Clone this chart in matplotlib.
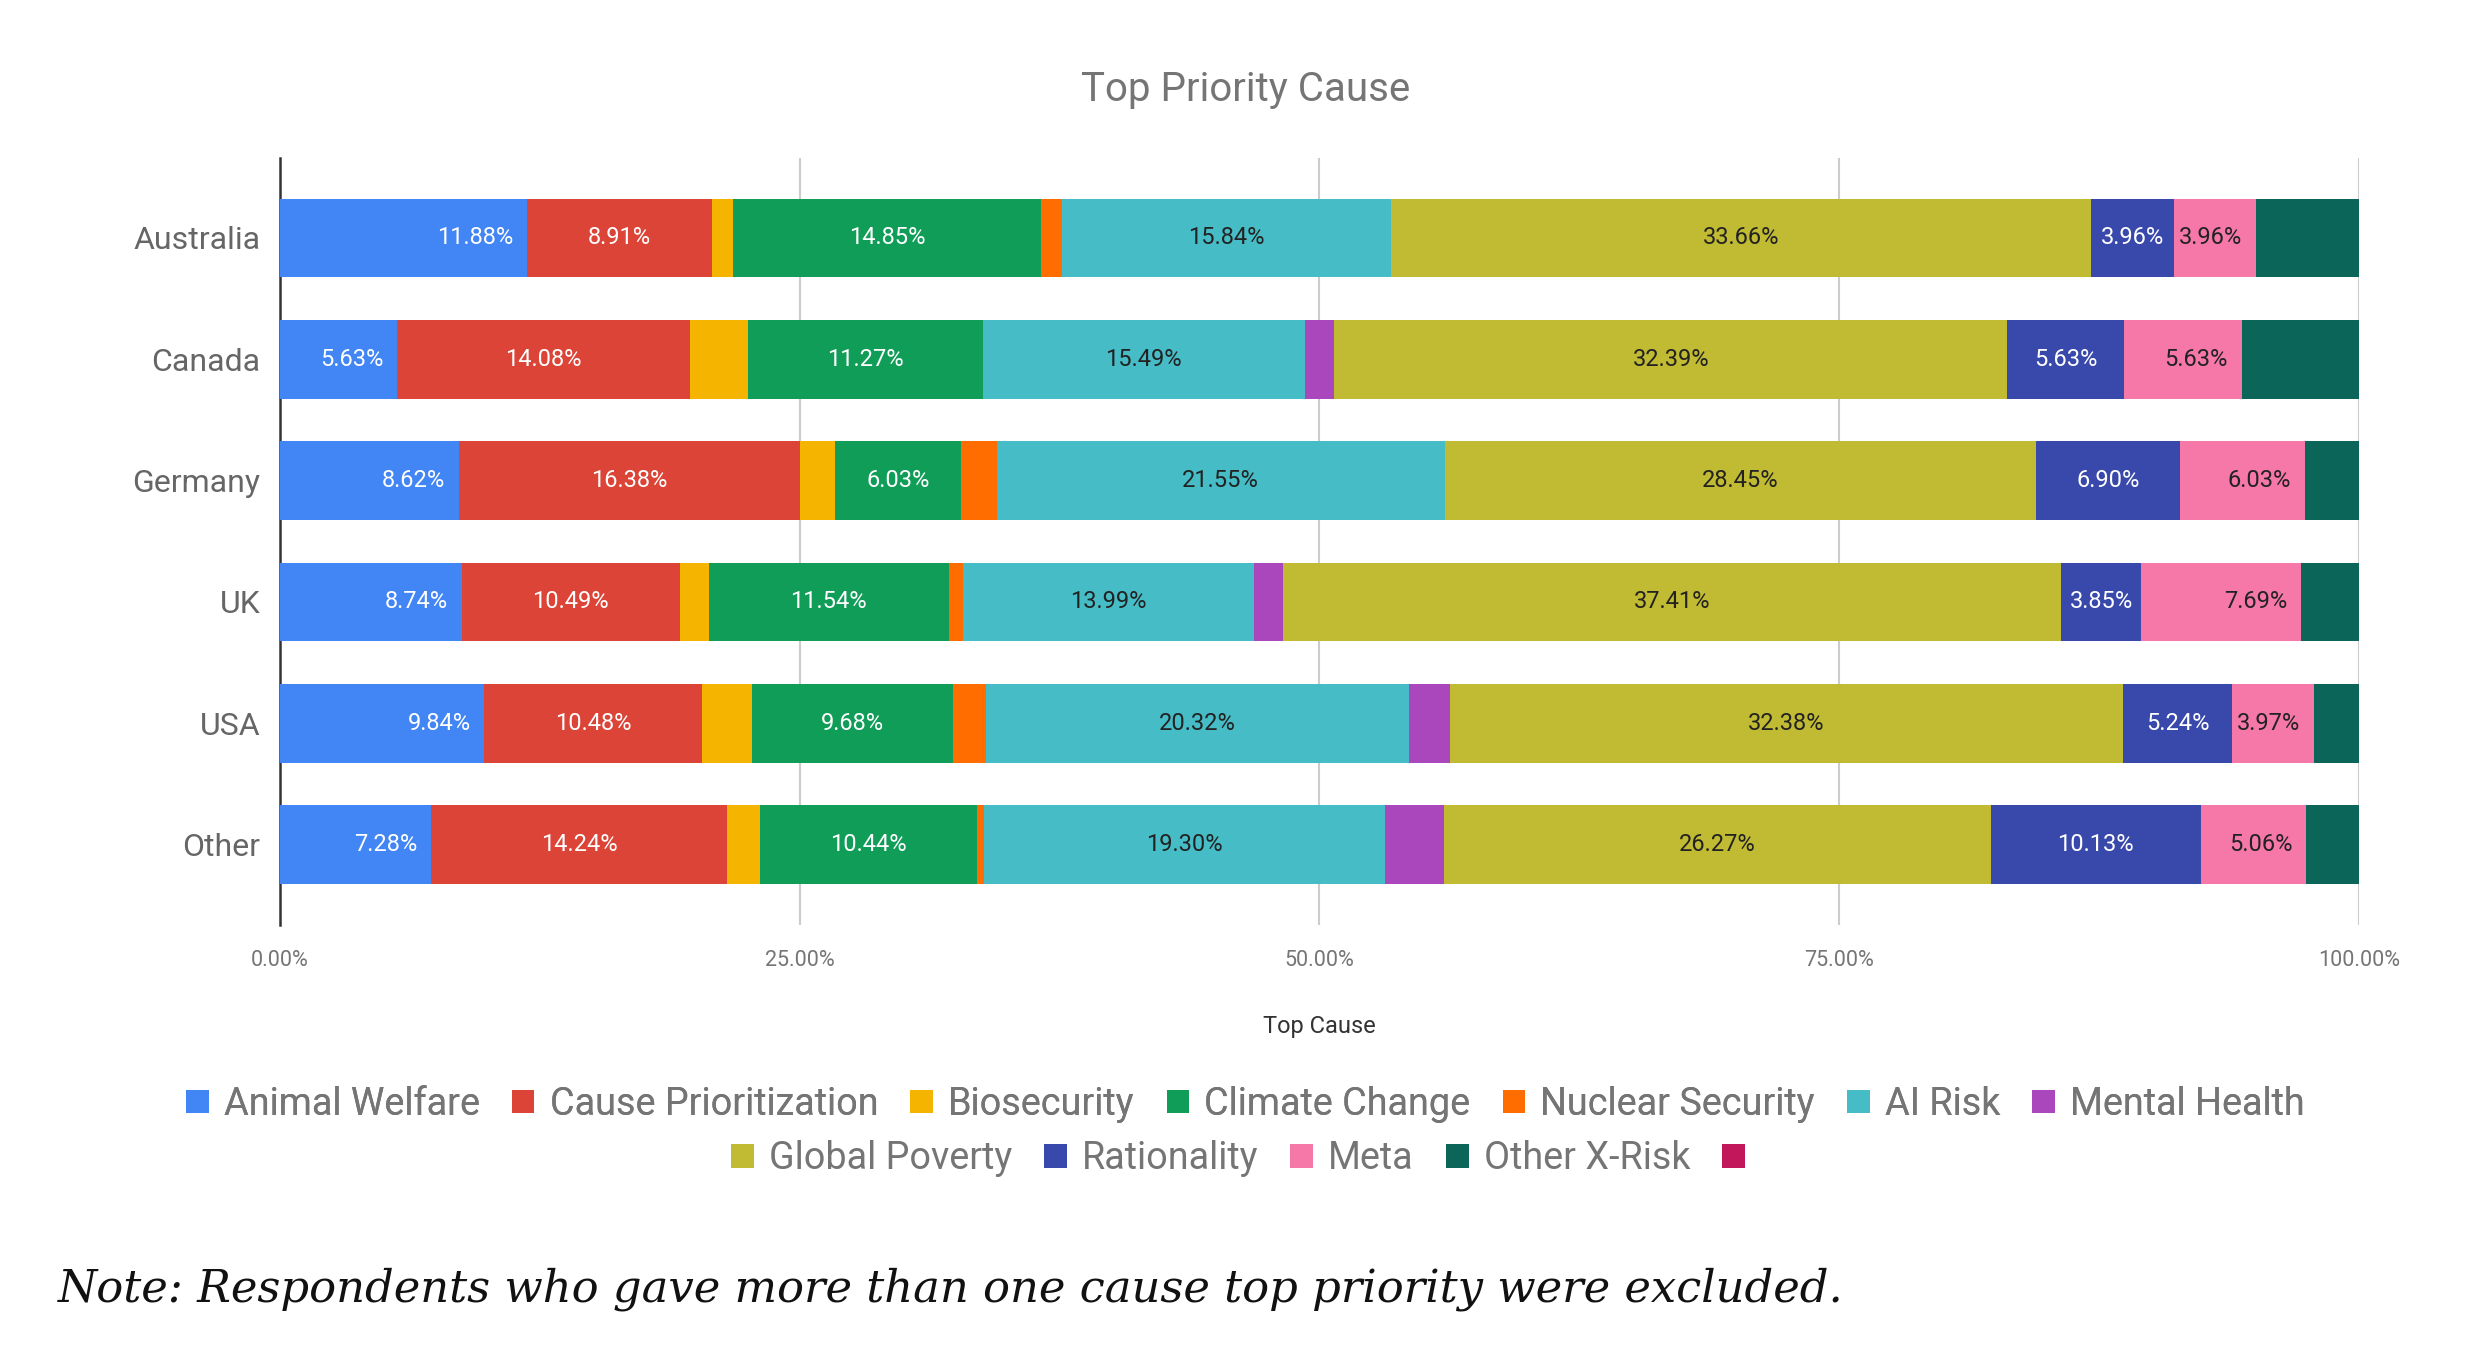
import numpy as np
import matplotlib
matplotlib.use('Agg')
import matplotlib.pyplot as plt
from matplotlib.patches import Patch

plt.rcParams['font.family'] = ['Roboto', 'DejaVu Sans']

countries = ['Australia', 'Canada', 'Germany', 'UK', 'USA', 'Other']
causes = ['Animal Welfare', 'Cause Prioritization', 'Biosecurity', 'Climate Change',
          'Nuclear Security', 'AI Risk', 'Mental Health', 'Global Poverty',
          'Rationality', 'Meta', 'Other X-Risk', '']
colors = ['#4285F4', '#DB4437', '#F4B400', '#0F9D58', '#FF6D01', '#46BDC6',
          '#AB47BC', '#C1BA33', '#3949AB', '#F678A8', '#0B6659', '#C2185B']

# percent of respondents, one list per cause (rows = countries above)
animal_welfare = [11.88, 5.63, 8.62, 8.74, 9.84, 7.28]
cause_prio = [8.91, 14.08, 16.38, 10.49, 10.48, 14.24]
biosecurity = [0.99, 2.82, 1.72, 1.40, 2.38, 1.58]
climate = [14.85, 11.27, 6.03, 11.54, 9.68, 10.44]
nuclear = [0.99, 0.00, 1.72, 0.70, 1.59, 0.32]
ai_risk = [15.84, 15.49, 21.55, 13.99, 20.32, 19.30]
mental_health = [0.00, 1.41, 0.00, 1.40, 1.98, 2.85]
global_poverty = [33.66, 32.39, 28.45, 37.41, 32.38, 26.27]
rationality = [3.96, 5.63, 6.90, 3.85, 5.24, 10.13]
meta = [3.96, 5.63, 6.03, 7.69, 3.97, 5.06]
other_xrisk = [4.95, 5.63, 2.59, 2.80, 2.14, 2.53]
unnamed = [0, 0, 0, 0, 0, 0]

series = [animal_welfare, cause_prio, biosecurity, climate, nuclear, ai_risk,
          mental_health, global_poverty, rationality, meta, other_xrisk, unnamed]

label_color = {0: 'white', 1: 'white', 3: 'white', 5: '#222222',
               7: '#222222', 8: 'white', 9: '#222222'}
right_aligned = {0, 9}

fig = plt.figure(figsize=(24.66, 13.6), dpi=100)
ax = fig.add_axes([0.1135, 0.320, 0.8431, 0.564])

y = np.arange(len(countries))
left = np.zeros(len(countries))
for i, vals in enumerate(series):
    vals = np.array(vals)
    ax.barh(y, vals, left=left, height=0.648, color=colors[i], zorder=3)
    if i in label_color:
        for j, v in enumerate(vals):
            if v >= 3.8:
                if i in right_aligned:
                    ax.annotate(f'{v:.2f}%', (left[j] + v, y[j]), xytext=(-10, 0),
                                textcoords='offset points', ha='right', va='center',
                                fontsize=17, color=label_color[i], zorder=4)
                else:
                    ax.text(left[j] + v / 2, y[j], f'{v:.2f}%', ha='center',
                            va='center', fontsize=17, color=label_color[i], zorder=4)
    left += vals

ax.set_xlim(0, 100)
ax.set_ylim(len(countries) - 0.34, -0.66)
ax.set_yticks(y)
ax.set_yticklabels(countries, fontsize=23, color='#666666')
ax.set_xticks([0, 25, 50, 75, 100])
ax.set_xticklabels(['0.00%', '25.00%', '50.00%', '75.00%', '100.00%'],
                   fontsize=15.5, color='#757575')
ax.tick_params(axis='both', length=0)
ax.tick_params(axis='x', pad=18)
ax.tick_params(axis='y', pad=14)
ax.grid(axis='x', color='#cccccc', linewidth=1.5, zorder=0)
for s in ['top', 'right', 'bottom']:
    ax.spines[s].set_visible(False)
ax.spines['left'].set_color('#333333')
ax.spines['left'].set_linewidth(1.8)
ax.set_xlabel('Top Cause', fontsize=17, color='#333333', labelpad=32)

fig.text(0.505, 0.934, 'Top Priority Cause', ha='center', va='center',
         fontsize=29, color='#757575')

handles = [Patch(facecolor=c, edgecolor='none') for c in colors]
labels = list(causes)
labels[-1] = ' '
kw = dict(frameon=False, fontsize=27.2, labelcolor='#757575', handlelength=0.6,
          handleheight=0.6, handletextpad=0.4, columnspacing=0.85, borderpad=0)
leg1 = fig.legend(handles[:7], labels[:7], ncol=7, loc='center',
                  bbox_to_anchor=(0.505, 0.188), **kw)
fig.add_artist(leg1)
fig.legend(handles[7:], labels[7:], ncol=5, loc='center',
           bbox_to_anchor=(0.507, 0.148), **kw)

fig.text(0.0236, 0.052, 'Note: Respondents who gave more than one cause top priority were excluded.',
         ha='left', va='center', fontsize=32.3, style='italic',
         family=['DejaVu Serif'], color='#111111')

fig.savefig('out.png', dpi=100, facecolor='white')
